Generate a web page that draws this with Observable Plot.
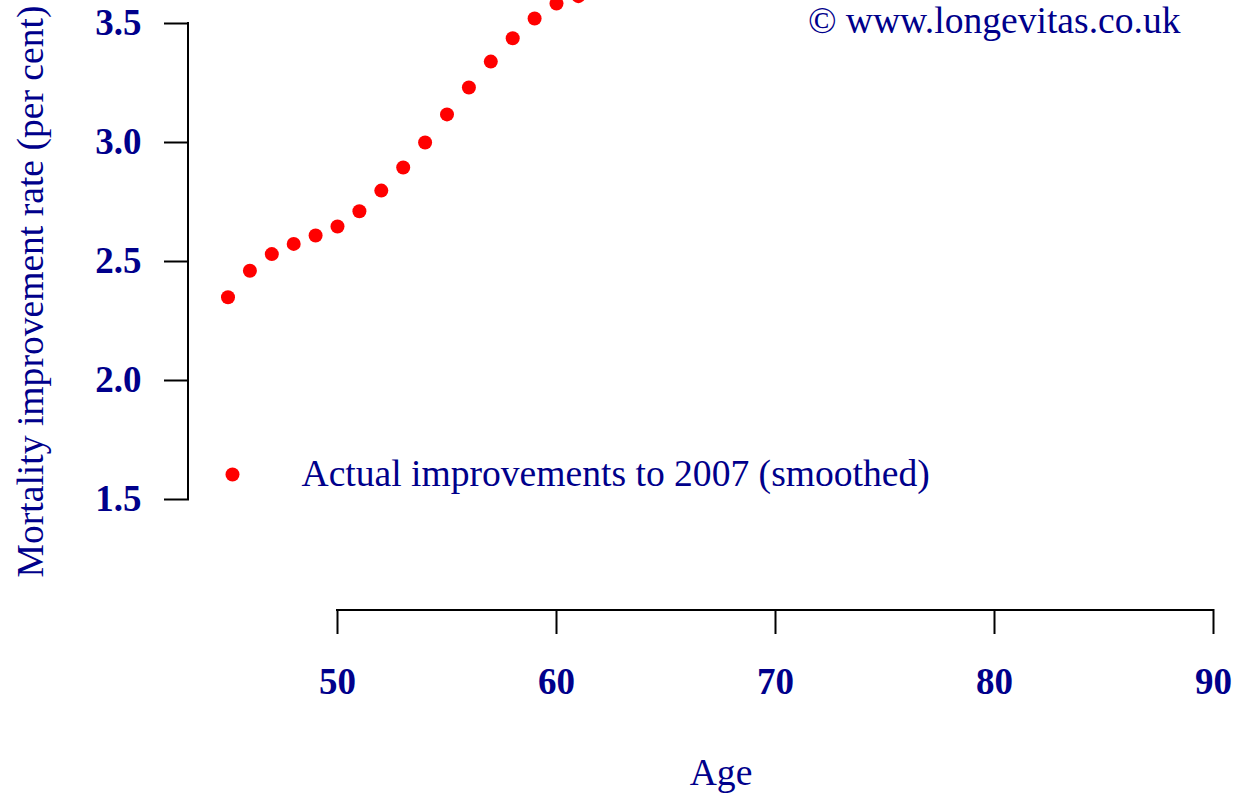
<!DOCTYPE html>
<html>
<head>
<meta charset="utf-8">
<script src="https://cdn.jsdelivr.net/npm/d3@7"></script>
<script src="https://cdn.jsdelivr.net/npm/@observablehq/plot@0.6"></script>
<style>
  html, body { margin: 0; padding: 0; background: #ffffff; overflow: hidden; }
  #chart svg { display: block; }
</style>
</head>
<body>
<div id="chart"></div>
<script>
// ---- data ----
const ages  = [45, 46, 47, 48, 49, 50, 51, 52, 53, 54, 55, 56, 57, 58, 59, 60, 61];
const rates = [2.350, 2.461, 2.531, 2.574, 2.609, 2.647, 2.711, 2.798, 2.895, 3.000,
               3.118, 3.231, 3.340, 3.438, 3.521, 3.584, 3.615];
const xTicks = [50, 60, 70, 80, 90];
const yTicks = [1.5, 2.0, 2.5, 3.0, 3.5];
const legendLabels = ["Actual improvements to 2007 (smoothed)"];
const creditText = ["© www.longevitas.co.uk"];
const xTitle = ["Age"];
const yTitle = ["Mortality improvement rate (per cent)"];

const points = ages.map((a, i) => ({age: a, rate: rates[i]}));

const NAVY = "#00008B";
const SERIF = "'Liberation Serif', 'Times New Roman', Times, serif";
const FS = 37.6;   // regular text
const FT = 37;     // bold tick labels

// domain lines drawn through the plot's own scales
const axisLines = (index, scales, values, dims) => {
  const g = d3.create("svg:g")
    .attr("stroke", "black").attr("stroke-width", 2).attr("fill", "none")
    .attr("stroke-linecap", "square");
  const yb = dims.height - dims.marginBottom;
  g.append("line")
    .attr("x1", scales.x(xTicks[0])).attr("x2", scales.x(xTicks[xTicks.length - 1]))
    .attr("y1", yb).attr("y2", yb);
  const xl = dims.marginLeft;
  g.append("line")
    .attr("x1", xl).attr("x2", xl)
    .attr("y1", scales.y(yTicks[0])).attr("y2", scales.y(yTicks[yTicks.length - 1]));
  return g.node();
};

const chart = Plot.plot({
  width: 1237,
  height: 794,
  marginLeft: 188,
  marginRight: 24,
  marginTop: 0,
  marginBottom: 184,
  x: {domain: [50, 90], range: [337, 1213]},
  y: {domain: [1.5, 3.5], range: [499, 23]},
  style: {fontFamily: SERIF, background: "#ffffff", color: NAVY},
  marks: [
    axisLines,
    Plot.axisX(xTicks, {
      anchor: "bottom", tickSize: 23, tickPadding: 34, label: null,
      stroke: "black", strokeWidth: 2, strokeLinecap: "square",
      fill: NAVY, fontSize: FT, fontWeight: "bold", fontFamily: SERIF,
      tickFormat: d => String(d)
    }),
    Plot.axisY(yTicks, {
      anchor: "left", tickSize: 23, tickPadding: 24, label: null,
      stroke: "black", strokeWidth: 2, strokeLinecap: "square",
      fill: NAVY, fontSize: FT, fontWeight: "bold", fontFamily: SERIF,
      tickFormat: d => d.toFixed(1)
    }),
    Plot.dot(points, {x: "age", y: "rate", r: 7, fill: "#ff0000", stroke: "none"}),
    // legend
    Plot.dot(legendLabels, {frameAnchor: "top-left", dx: 44, dy: 474, r: 7, fill: "#ff0000", stroke: "none"}),
    Plot.text(legendLabels, {
      frameAnchor: "top-left", dx: 113, dy: 485, text: d => d,
      textAnchor: "start", lineAnchor: "bottom", fontSize: FS, fill: NAVY, fontFamily: SERIF
    }),
    // credit
    Plot.text(creditText, {
      frameAnchor: "top-right", dx: -33, dy: 32, text: d => d,
      textAnchor: "end", lineAnchor: "bottom", fontSize: FS, fill: NAVY, fontFamily: SERIF
    }),
    // axis titles
    Plot.text(xTitle, {
      frameAnchor: "bottom", dx: 20, dy: 174, text: d => d,
      textAnchor: "middle", lineAnchor: "bottom", fontSize: FS, fill: NAVY, fontFamily: SERIF
    }),
    Plot.text(yTitle, {
      frameAnchor: "left", dx: -146, dy: -14, rotate: -90, text: d => d,
      textAnchor: "middle", lineAnchor: "bottom", fontSize: FS, fill: NAVY, fontFamily: SERIF
    })
  ]
});

document.getElementById("chart").appendChild(chart);
</script>
</body>
</html>
